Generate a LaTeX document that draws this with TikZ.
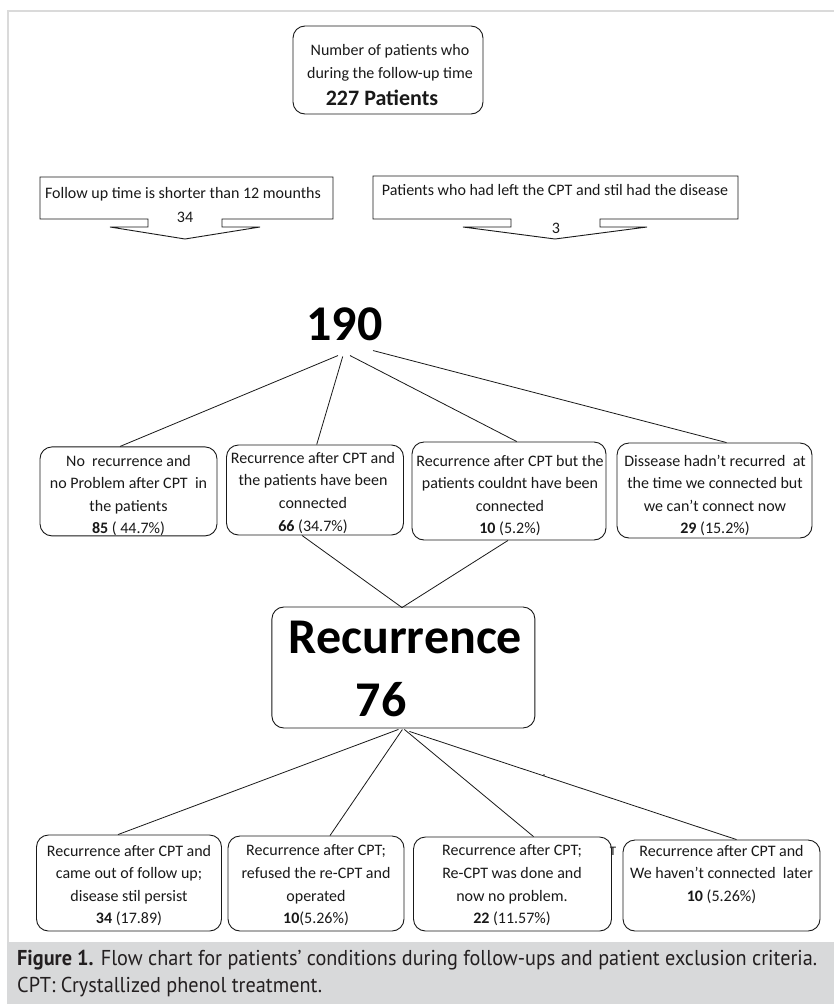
\documentclass[tikz,border=0pt]{standalone}
\usepackage{fontspec}
\setmainfont{Carlito}
\newfontfamily\capfont{PT Sans}
\usetikzlibrary{calc}
\definecolor{framegray}{RGB}{218,218,218}
\definecolor{capgray}{RGB}{216,217,218}
\definecolor{captext}{RGB}{35,31,32}
\definecolor{ink}{RGB}{25,25,25}
\newsavebox\capboxA
\tikzset{
  rbox/.style={draw=ink, line width=0.9pt, rounded corners=12pt, inner sep=0pt},
  btxt/.style={font=\fontsize{16}{22.6}\selectfont, align=center, inner sep=0pt, anchor=north, text=ink},
  ltxt/.style={font=\fontsize{16}{20}\selectfont, inner sep=0pt, anchor=base, text=ink},
  bigtxt/.style={font=\bfseries\fontsize{50}{56}\selectfont, inner sep=0pt, anchor=base, text=black},
  link/.style={draw=ink, line width=0.8pt},
  callout/.style={draw=ink, line width=0.9pt, line join=miter},
}
\begin{document}
\begin{tikzpicture}[x=1pt,y=-1pt]
\useasboundingbox (0,0) rectangle (834,1004);
\fill[white] (0,0) rectangle (834,1004);
% frame and caption band
\draw[framegray, line width=2pt] (8,942) -- (8,11) -- (834,11);
\fill[capgray] (7,942) rectangle (834,1004);

% top box
\node[rbox, minimum width=190pt, minimum height=88pt] (top) at (388,70) {};
\node[btxt, font=\fontsize{16}{22.7}\selectfont] (toptxt) at (390,44) {Number of patients who\\during the follow-up time};
\node[ltxt, font=\bfseries\fontsize{22}{26}\selectfont] (toptot) at (382,105) {227 Patients};

% callouts
\draw[callout] (40,177) -- (333,177) -- (333,219) -- (222,219) -- (222,227) -- (260,227) -- (185,239) -- (110,227) -- (148,227) -- (148,219) -- (40,219) -- cycle;
\node[ltxt] (c1a) at (183,198.5) {Follow up time is shorter than 12 mounths};
\node[ltxt] (c1b) at (185,222) {34};
\draw[callout] (373,176) -- (738,176) -- (738,219) -- (600,219) -- (600,227) -- (647,227) -- (555,239) -- (463,227) -- (511,227) -- (511,219) -- (373,219) -- cycle;
\node[ltxt] (c2a) at (555,195.5) {Patients who had left the CPT and stil had the disease};
\node[ltxt] (c2b) at (556,233) {3};

% 190
\node[bigtxt] (n190) at (344.5,340) {190};

% middle boxes
\node[rbox, minimum width=177pt, minimum height=89pt] (m1) at (128.5,491.4) {};
\node[rbox, minimum width=177pt, minimum height=90pt] (m2) at (315,490) {};
\node[rbox, minimum width=194pt, minimum height=98pt] (m3) at (509,491) {};
\node[rbox, minimum width=195pt, minimum height=95pt] (m4) at (714.5,490.5) {};
\node[btxt] (m1t) at (128.5,454.7) {No\ \ recurrence and\\no Problem after CPT\ \ in\\the patients\\\textbf{85} ( 44.7\%)};
\node[btxt] (m2t) at (313,452) {Recurrence after CPT and\\the patients have been\\connected\\\textbf{66} (34.7\%)};
\node[btxt] (m3t) at (510,454.7) {Recurrence after CPT but the\\patients couldnt have been\\connected\\\textbf{10} (5.2\%)};
\node[btxt] (m4t) at (715,454.7) {Dissease hadn’t recurred\ \ at\\the time we connected but\\we can’t connect now\\\textbf{29} (15.2\%)};

\draw[link] ($(n190.south)+(-6.5,15)$) -- ($(m1.north)+(-8.5,0)$);
\draw[link] ($(n190.south)+(-1.8,16)$) -- ($(m2.north)+(1.7,0)$);
\draw[link] ($(n190.south)+(5.5,15)$) -- ($(m3.north)+(7.7,0)$);
\draw[link] ($(n190.south)+(28.5,10)$) -- ($(m4.north)+(12,0)$);

% recurrence box
\node[rbox, minimum width=263pt, minimum height=121pt] (r) at (403.4,667.5) {};
\node[bigtxt] (rt1) at (405.5,653) {Recurrence};
\node[bigtxt] (rt2) at (381,716) {76};
\draw[link] ($(m2.south)+(-13,0)$) -- ($(r.north)+(-1.4,1)$);
\draw[link] ($(m3.south)+(-1,0)$) -- ($(r.north)+(-1.4,1)$);

% bottom boxes
\node[rbox, minimum width=185pt, minimum height=96pt] (b1) at (129,883) {};
\node[rbox, minimum width=176pt, minimum height=95pt] (b2) at (316,883.5) {};
\node[rbox, minimum width=198pt, minimum height=94pt] (b3) at (512.5,884) {};
\node[rbox, minimum width=197pt, minimum height=91pt] (b4) at (721.5,885.5) {};
\node[btxt] (b1t) at (129,844.7) {Recurrence after CPT and\\came out of follow up;\\disease stil persist\\\textbf{34} (17.89)};
\node[btxt] (b2t) at (316,844.7) {Recurrence after CPT;\\refused the re-CPT and\\operated\\\textbf{10}(5.26\%)};
\node[btxt] (b3t) at (512,844.7) {Recurrence after CPT;\\Re-CPT was done and\\now no problem.\\\textbf{22} (11.57\%)};
\node[btxt] (b4t) at (721.5,844.7) {Recurrence after CPT and\\We haven’t connected\ \ later\\\textbf{10} (5.26\%)};

\draw[link] ($(r.south)+(-5,1)$) -- ($(b1.north)+(-11,0)$);
\draw[link] ($(r.south)+(-1,1)$) -- ($(b2.north)+(14,0)$);
\draw[link] ($(r.south)+(1,1)$) -- ($(b3.north)+(21,0)$);
\draw[link] ($(r.south)+(6,3)$) -- ($(b4.north)+(15,0)$);

% stray marks
\node[ltxt, font=\fontsize{13}{15}\selectfont] (strayT) at (613,855) {T};
\fill[ink] (544,775) circle (0.8pt);

% caption
\node[anchor=base west, inner sep=0pt, text=captext] (cap1) at (17,965) {\sbox\capboxA{\capfont\fontsize{21.5}{27}\selectfont\textbf{Figure 1.} Flow chart for patients’ conditions during follow-ups and patient exclusion criteria.}\pgfmathsetmacro{\capsx}{800/\wd\capboxA}\global\let\capsxg\capsx\scalebox{\capsx}[1]{\usebox\capboxA}};
\node[anchor=base west, inner sep=0pt, text=captext] (cap2) at (17,992) {\scalebox{\capsxg}[1]{\capfont\fontsize{21.5}{27}\selectfont CPT: Crystallized phenol treatment.}};
\end{tikzpicture}
\end{document}
